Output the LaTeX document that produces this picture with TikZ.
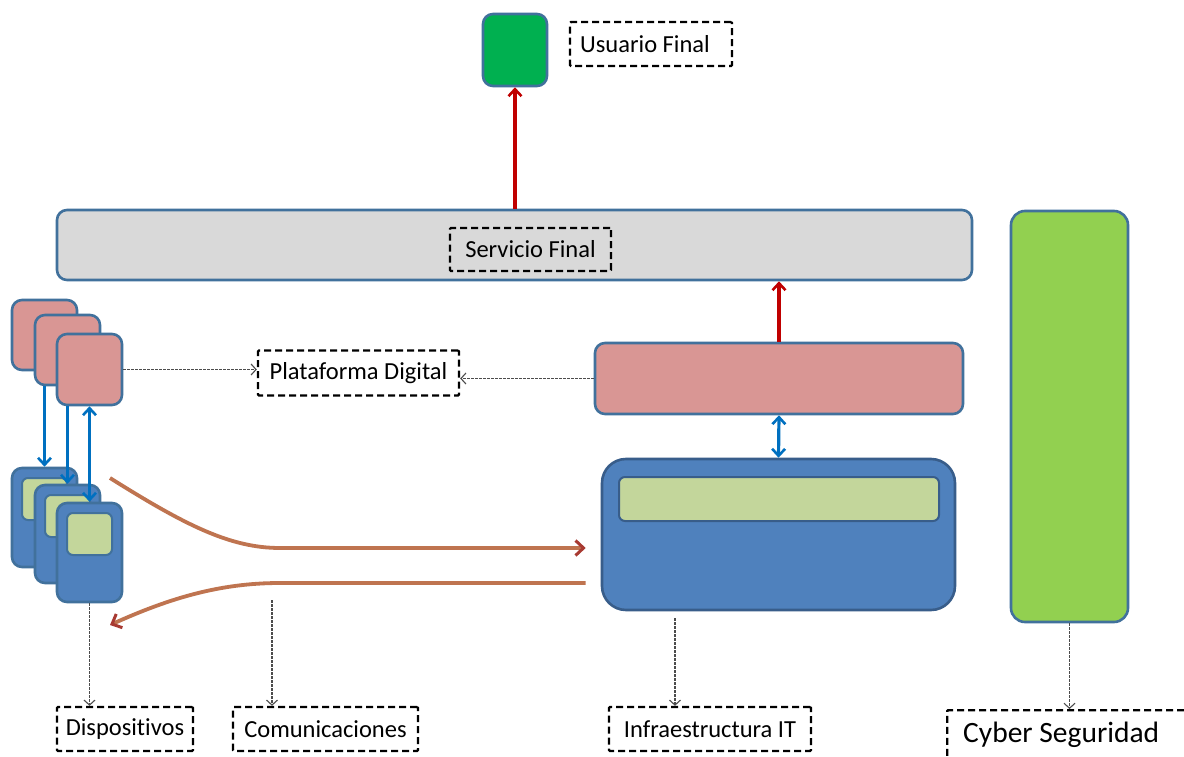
\documentclass[tikz,border=0pt]{standalone}
\usepackage{fontspec}
\setmainfont{Carlito}[Ligatures=NoCommon,RawFeature={-calt}]
\usetikzlibrary{arrows.meta,calc}
\definecolor{edge}{HTML}{41719C}
\definecolor{itedge}{HTML}{385D8A}
\definecolor{usrgreen}{HTML}{00B050}
\definecolor{secgreen}{HTML}{92D050}
\definecolor{palegreen}{HTML}{C3D69B}
\definecolor{pinkfill}{HTML}{D99694}
\definecolor{bluefill}{HTML}{4F81BD}
\definecolor{greyfill}{HTML}{D9D9D9}
\definecolor{redline}{HTML}{C00000}
\definecolor{blueline}{HTML}{0070C0}
\definecolor{brownline}{HTML}{BF7450}
\definecolor{brownhead}{HTML}{A83A32}
\tikzset{
  blk/.style={draw=edge, line width=2.6pt, rounded corners=10pt, inner sep=0pt},
  lbl/.style={draw=black, line width=2.4pt, dash pattern=on 7pt off 4pt, rounded corners=1pt,
    inner sep=0pt, font=\fontsize{24.5}{26}\selectfont},
  redarrow/.style={draw=redline, line width=3.2pt, -{Straight Barb[length=7pt,width=13pt,line width=2.6pt]}},
  bluearrow/.style={draw=blueline, line width=3.2pt, -{Straight Barb[length=7pt,width=13pt,line width=2.6pt]}},
  bluedouble/.style={draw=blueline, line width=3.2pt, {Straight Barb[length=7pt,width=13pt,line width=2.6pt]}-{Straight Barb[length=7pt,width=13pt,line width=2.6pt]}},
  dotarrow/.style={draw=black!70, line width=1.2pt, dash pattern=on 2.5pt off 1.5pt, -{Straight Barb[length=5pt,width=11pt,line width=1.1pt]}},
  flow/.style={draw=brownline, line width=3.8pt, -{Straight Barb[length=8pt,width=15pt,line width=3pt,color=brownhead]}},
}
\begin{document}
\begin{tikzpicture}[x=1pt,y=-1pt]
\clip (0,0) rectangle (1184,757);
\fill[white] (0,0) rectangle (1184,757);

% end user and final service
\node[blk, fill=usrgreen, minimum width=64pt, minimum height=72pt] (usr) at (515,50) {};
\node[blk, fill=greyfill, minimum width=915pt, minimum height=70pt] (serv) at (514.5,245) {};
\node[blk, fill=secgreen, rounded corners=14pt, minimum width=117pt, minimum height=411pt] (cyber) at (1069.5,416.5) {};

% platform bar and IT infrastructure
\node[blk, fill=pinkfill, minimum width=368pt, minimum height=71pt] (plat) at (779,378.5) {};
\node[blk, draw=itedge, fill=bluefill, rounded corners=24pt, minimum width=353pt, minimum height=151pt] (it) at (778.5,534.5) {};
\node[blk, draw=itedge, line width=2pt, fill=palegreen, rounded corners=6pt, minimum width=320pt, minimum height=44pt] (itin) at (779,499) {};

% stacked platform instances
\node[blk, fill=pinkfill, minimum width=65pt, minimum height=70pt] (pink1) at (44.5,335) {};
\node[blk, fill=pinkfill, minimum width=65pt, minimum height=70pt] (pink2) at (67.5,350) {};
\node[blk, fill=pinkfill, minimum width=65pt, minimum height=71pt] (pink3) at (89.5,369.5) {};

% stacked devices
\node[blk, fill=bluefill, minimum width=65pt, minimum height=99pt] (dev1) at (44.5,517.5) {};
\node[blk, line width=2pt, fill=palegreen, rounded corners=6pt, minimum width=45pt, minimum height=42pt] (scr1) at (44.5,499) {};
\node[blk, fill=bluefill, minimum width=65pt, minimum height=98pt] (dev2) at (67.5,534) {};
\node[blk, line width=2pt, fill=palegreen, rounded corners=6pt, minimum width=45pt, minimum height=42pt] (scr2) at (67.5,516) {};
\node[blk, fill=bluefill, minimum width=65pt, minimum height=99pt] (dev3) at (89.5,552.5) {};
\node[blk, line width=2pt, fill=palegreen, rounded corners=6pt, minimum width=45pt, minimum height=42pt] (scr3) at (89.5,534) {};

% labels
\node[lbl, minimum width=162pt, minimum height=44pt] (lusr) at (651,44) {Usuario Final\hspace*{12pt}};
\node[lbl, minimum width=161pt, minimum height=43pt] (lserv) at (530.5,249.5) {Servicio Final};
\node[lbl, minimum width=201pt, minimum height=45pt] (lplat) at (358.5,373) {Plataforma Digital};
\node[lbl, minimum width=136pt, minimum height=44pt] (ldev) at (125,729) {Disposit\kern0pt ivos};
\node[lbl, minimum width=185pt, minimum height=44pt] (lcom) at (325.5,729) {Comunicaciones};
\node[lbl, minimum width=202pt, minimum height=44pt] (linf) at (710,729) {Infraestructura IT};
\node[lbl, anchor=north west, minimum width=260pt, minimum height=70pt] (lcyb) at (946,709) {};
\node[font=\fontsize{29.5}{31}\selectfont, anchor=west, inner sep=0pt] (tcyb) at (963,735) {Cyber Seguridad};

% service flow upward
\draw[redarrow] (usr.south |- serv.north) -- (usr.south);
\draw[redarrow] (plat.north) -- (plat.north |- serv.south);
\draw[bluedouble] (plat.south) -- (it.north);

% platform instances to devices
\draw[bluearrow] (dev1.north |- pink2.south) -- (dev1.north);
\draw[bluearrow] (dev2.north |- pink3.south) -- (dev2.north);
\draw[bluedouble] (pink3.south) -- (dev3.north);

% communication flows
\coordinate (upstart) at (110,478);
\coordinate (upend) at ($(it.west)+(-15,13.5)$);
\coordinate (downstart) at ($(it.west)+(-15,48.5)$);
\coordinate (downend) at (110,625);
\draw[flow] (upstart) .. controls (185,525) and (230,548) .. (280,548) -- (upend);
\draw[flow] (downstart) -- (280,583) .. controls (220,583) and (170,598) .. (downend);

% pointers to labels
\draw[dotarrow] (pink3.east) -- (pink3.east -| lplat.west);
\draw[dotarrow] (plat.west) -- (plat.west -| lplat.east);
\draw[dotarrow] (dev3.south) -- (dev3.south |- ldev.north);
\coordinate (comfoot) at (272,600);
\draw[dotarrow] (comfoot) -- (comfoot |- lcom.north);
\coordinate (itfoot) at (675,618);
\draw[dotarrow] (itfoot) -- (itfoot |- linf.north);
\draw[dotarrow] (cyber.south) -- (cyber.south |- lcyb.north);
\end{tikzpicture}
\end{document}
